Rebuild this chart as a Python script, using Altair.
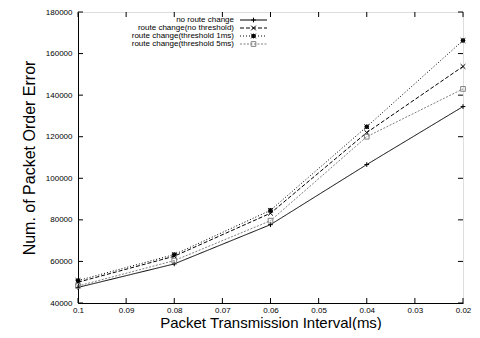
import altair as alt
import pandas as pd

intervals = [0.1, 0.08, 0.06, 0.04, 0.02]
series_names = [
    "no route change",
    "route change(no threshold)",
    "route change(threshold 1ms)",
    "route change(threshold 5ms)",
]
no_change = [47500, 58800, 77700, 106600, 134500]
no_threshold = [50000, 62500, 83200, 122000, 153800]
thr_1ms = [50800, 63300, 84600, 124800, 166300]
thr_5ms = [48200, 60400, 79600, 120000, 143000]
x_ticks = [0.1, 0.09, 0.08, 0.07, 0.06, 0.05, 0.04, 0.03, 0.02]
y_ticks = [40000, 60000, 80000, 100000, 120000, 140000, 160000, 180000]

W, H = 385, 291
FONT = "Liberation Sans"

colors = ["#000000", "#000000", "#000000", "#808080"]
dashes = [[1, 0], [4, 2], [1, 2], [2, 1.5]]
plus = "M-1,0L1,0M0,-1L0,1"
cross = "M-1,-1L1,1M-1,1L1,-1"
star = "M-1,0L1,0M0,-1L0,1M-1,-1L1,1M-1,1L1,-1M-0.6,-0.6L0.6,-0.6L0.6,0.6L-0.6,0.6Z"
square = "M-1,-1L1,-1L1,1L-1,1Z"
shapes = [plus, cross, star, square]

rows = []
for name, vals in zip(series_names, [no_change, no_threshold, thr_1ms, thr_5ms]):
    for x, v in zip(intervals, vals):
        rows.append({"interval": x, "errors": v, "series": name})
df = pd.DataFrame(rows)

xscale = alt.Scale(domain=[0.02, 0.1], reverse=True, nice=False, zero=False)
yscale = alt.Scale(domain=[40000, 180000], nice=False, zero=False)

xenc = alt.X(
    "interval:Q",
    scale=xscale,
    axis=alt.Axis(
        values=x_ticks, format=".2~f", ticks=False, grid=False,
        title="Packet Transmission Interval(ms)", labelPadding=3,
        labelFontSize=8, titleFontSize=15, titleBaseline="alphabetic", titleY=24,
        labelFlush=False, labelOverlap=False,
        domainColor="black", labelColor="black", titleColor="black",
        labelFont=FONT, titleFont=FONT, titleFontWeight="normal",
    ),
)
yenc = alt.Y(
    "errors:Q",
    scale=yscale,
    axis=alt.Axis(
        values=y_ticks, format="d", ticks=False, grid=False,
        title="Num. of Packet Order Error", labelPadding=6,
        labelFontSize=8, titleFontSize=16, titlePadding=8,
        labelFlush=False, labelOverlap=False,
        domainColor="black", labelColor="black", titleColor="black",
        labelFont=FONT, titleFont=FONT, titleFontWeight="normal",
    ),
)

color_s = alt.Color("series:N", scale=alt.Scale(domain=series_names, range=colors), legend=None)
dash_s = alt.StrokeDash("series:N", scale=alt.Scale(domain=series_names, range=dashes), legend=None)
shape_s = alt.Shape("series:N", scale=alt.Scale(domain=series_names, range=shapes), legend=None)

base = alt.Chart(df)
lines = base.mark_line(strokeWidth=1).encode(x=xenc, y=yenc, color=color_s, strokeDash=dash_s, detail="series:N")
points = base.mark_point(size=22, filled=False, strokeWidth=1, opacity=1).encode(
    x=alt.X("interval:Q", scale=xscale),
    y=alt.Y("errors:Q", scale=yscale),
    shape=shape_s,
    color=color_s,
)

xt = pd.DataFrame({"t": x_ticks})
yt = pd.DataFrame({"t": y_ticks})
tick_layers = [
    alt.Chart(xt).mark_rule(color="black").encode(x=alt.X("t:Q", scale=xscale), y=alt.value(H), y2=alt.value(H - 5)),
    alt.Chart(xt).mark_rule(color="black").encode(x=alt.X("t:Q", scale=xscale), y=alt.value(0), y2=alt.value(5)),
    alt.Chart(yt).mark_rule(color="black").encode(y=alt.Y("t:Q", scale=yscale), x=alt.value(0), x2=alt.value(5)),
    alt.Chart(yt).mark_rule(color="black").encode(y=alt.Y("t:Q", scale=yscale), x=alt.value(W - 5), x2=alt.value(W)),
]

legend_layers = []
for i, name in enumerate(series_names):
    ly = 8 + 8 * i
    ldf = pd.DataFrame({"name": [name]})
    legend_layers.append(
        alt.Chart(ldf).mark_text(align="right", baseline="middle", fontSize=8, font=FONT, color="black").encode(
            x=alt.value(156), y=alt.value(ly), text="name:N"
        )
    )
    legend_layers.append(
        alt.Chart(ldf).mark_rule(color=colors[i], strokeDash=dashes[i], strokeWidth=1).encode(
            x=alt.value(162), x2=alt.value(189), y=alt.value(ly)
        )
    )
    legend_layers.append(
        alt.Chart(ldf).mark_point(size=22, filled=False, strokeWidth=1, color=colors[i], opacity=1).encode(
            x=alt.value(175.5), y=alt.value(ly), shape=alt.value(shapes[i])
        )
    )

chart = alt.layer(lines, points, *tick_layers, *legend_layers).properties(
    width=W, height=H,
    autosize=alt.AutoSizeParams(type="none"),
    padding={"left": 70, "top": 4, "right": 9, "bottom": 27},
).configure_view(stroke="black", strokeWidth=1).configure(background="white")

chart.save("out.html", embed_options={"renderer": "svg", "actions": False})
